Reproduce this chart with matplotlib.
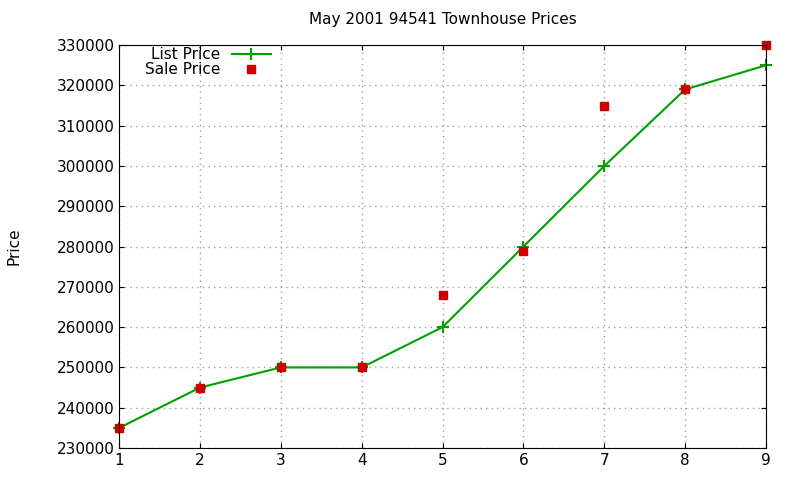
import matplotlib
matplotlib.use("Agg")
import matplotlib.pyplot as plt

x = [1, 2, 3, 4, 5, 6, 7, 8, 9]
list_price = [235000, 245000, 250000, 250000, 260000, 280000, 300000, 319000, 325000]
sale_price = [235000, 245000, 250000, 250000, 268000, 279000, 315000, 319000, 330000]

fig = plt.figure(figsize=(8, 4.8), dpi=100)
ax = fig.add_axes([0.149, 0.0667, 0.8085, 0.8393])
ax.plot(x, list_price, color="#00a000", lw=1.5, marker="+", ms=8, mew=1.5, label="List Price", clip_on=False)
ax.plot(x, sale_price, ls="none", marker="s", color="#cc0000", ms=6, label="Sale Price", clip_on=False)
ax.set_xlim(1, 9)
ax.set_ylim(230000, 330000)
ax.set_yticks(range(230000, 330001, 10000))
ax.set_xticks(x)
ax.grid(True, color="#a0a0a0", ls=(0, (1, 3)), lw=1)
ax.tick_params(direction="in", labelsize=11, top=True, right=True)
ax.set_title("May 2001 94541 Townhouse Prices", fontsize=11, pad=15)
ax.set_ylabel("Price", fontsize=11, labelpad=25)
ax.legend(loc="upper left", markerfirst=False, frameon=False, fontsize=11,
          borderaxespad=0.0, handlelength=2.5, labelspacing=0.0, bbox_to_anchor=(0.03, 1.01))
fig.savefig("out.png")
